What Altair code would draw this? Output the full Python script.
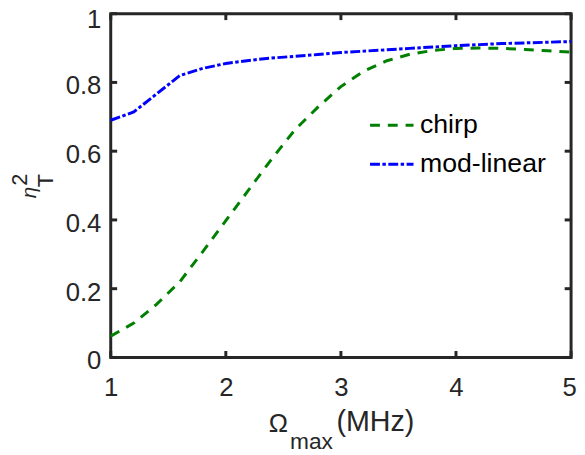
import altair as alt
import pandas as pd

# ---- data ----
x_vals = [1.0, 1.2, 1.4, 1.6, 1.8, 2.0, 2.2, 2.4, 2.6, 2.8, 3.0,
          3.2, 3.4, 3.6, 3.8, 4.0, 4.2, 4.4, 4.6, 4.8, 5.0]
chirp = [0.062, 0.100, 0.155, 0.220, 0.308, 0.398, 0.488, 0.578, 0.662, 0.728, 0.788,
         0.833, 0.863, 0.882, 0.893, 0.899, 0.900, 0.899, 0.896, 0.892, 0.888]
mod_linear = [0.690, 0.714, 0.767, 0.820, 0.841, 0.855, 0.864, 0.871, 0.876, 0.881, 0.887,
              0.891, 0.895, 0.899, 0.903, 0.907, 0.910, 0.913, 0.915, 0.917, 0.919]
series_names = ["chirp", "mod-linear"]
series_colors = ["#008000", "#0000ff"]
series_dashes = [[10, 8], [10, 2.5, 3.5, 2.5]]
x_ticks = [1, 2, 3, 4, 5]
y_ticks = [0, 0.2, 0.4, 0.6, 0.8, 1.0]

df = pd.DataFrame({
    "x": x_vals + x_vals,
    "y": chirp + mod_linear,
    "series": [series_names[0]] * len(x_vals) + [series_names[1]] * len(x_vals),
})

W, H = 466, 348
FONT = "Liberation Sans"
AX = "#262626"

xscale = alt.Scale(domain=[1, 5], nice=False, zero=False)
yscale = alt.Scale(domain=[0, 1], nice=False, zero=False)
x_axis = alt.Axis(values=x_ticks, format="d", title=None, tickSize=0,
                  domain=False, grid=False, labelFont=FONT, labelFontSize=26,
                  labelColor=AX, labelPadding=18, labelFlush=False,
                  labelOffset=alt.condition("datum.value == 5", alt.value(-2), alt.value(0)))
y_axis = alt.Axis(values=y_ticks, format="~g", title=None, tickSize=0,
                  domain=False, grid=False, labelFont=FONT, labelFontSize=26,
                  labelColor=AX, labelPadding=10, labelFlush=False,
                  labelOffset=alt.condition("datum.value == 1", alt.value(5.5), alt.value(3.5)))

legend_cfg = dict(
    title=None, orient="none", legendX=261, legendY=100.5, padding=0,
    symbolType="stroke", symbolSize=1936, symbolStrokeWidth=3,
    labelFont=FONT, labelFontSize=27, labelColor="#000000", labelOffset=5,
    rowPadding=11.5, clipHeight=25,
)

lines = alt.Chart(df).mark_line(strokeWidth=3, strokeCap="butt").encode(
    x=alt.X("x:Q", scale=xscale, axis=x_axis),
    y=alt.Y("y:Q", scale=yscale, axis=y_axis),
    color=alt.Color("series:N", scale=alt.Scale(domain=series_names, range=series_colors),
                    legend=alt.Legend(**legend_cfg)),
    strokeDash=alt.StrokeDash("series:N", scale=alt.Scale(domain=series_names, range=series_dashes),
                              legend=alt.Legend(**legend_cfg)),
)

xt = pd.DataFrame({"v": x_ticks})
yt = pd.DataFrame({"v": y_ticks})
TL = 6.5
tick_b = alt.Chart(xt).mark_rule(color=AX, strokeWidth=3).encode(
    x=alt.X("v:Q", scale=xscale, axis=x_axis), y=alt.value(H), y2=alt.value(H - TL))
tick_t = alt.Chart(xt).mark_rule(color=AX, strokeWidth=3).encode(
    x=alt.X("v:Q", scale=xscale, axis=x_axis), y=alt.value(0), y2=alt.value(TL))
tick_l = alt.Chart(yt).mark_rule(color=AX, strokeWidth=3).encode(
    y=alt.Y("v:Q", scale=yscale, axis=y_axis), x=alt.value(0), x2=alt.value(TL))
tick_r = alt.Chart(yt).mark_rule(color=AX, strokeWidth=3).encode(
    y=alt.Y("v:Q", scale=yscale, axis=y_axis), x=alt.value(W), x2=alt.value(W - TL))


def label(txt, x, y, size, angle=None, align="left", style="normal"):
    kw = dict(align=align, baseline="alphabetic", font=FONT, fontSize=size,
              color=AX, fontStyle=style)
    if angle is not None:
        kw["angle"] = angle
    return alt.Chart(pd.DataFrame({"t": [txt]})).mark_text(**kw).encode(
        text="t:N", x=alt.value(x), y=alt.value(y))


texts = [
    label("Ω", 160, 423.5, 26),
    label("max", 181.5, 441, 23),
    label("(MHz)", 228.5, 422.5, 29),
    label("η", -76, 181, 21, angle=270, align="center", style="italic"),
    label("T", -58, 169, 22, angle=270, align="center"),
    label("2", -85, 168, 22, angle=270, align="center"),
]

chart = alt.layer(lines, tick_b, tick_t, tick_l, tick_r, *texts).properties(
    width=W, height=H,
    padding={"left": 104, "top": 3, "right": 6, "bottom": 95},
    autosize=alt.AutoSizeParams(type="none"),
).configure_view(stroke=AX, strokeWidth=3)

chart.save("out.html", embed_options={"renderer": "svg", "actions": False})
